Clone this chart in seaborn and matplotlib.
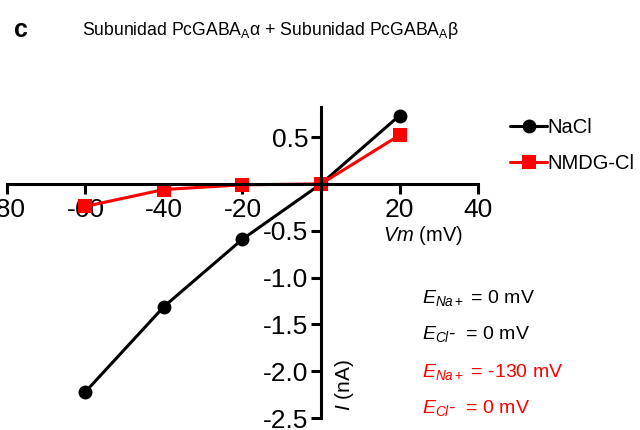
import matplotlib
matplotlib.use("Agg")
import matplotlib.pyplot as plt
import seaborn as sns
import pandas as pd
from matplotlib.lines import Line2D

# Current-voltage data (Vm in mV, I in nA)
vm = [-60, -40, -20, 0, 20]
i_nacl = [-2.22, -1.31, -0.59, 0.0, 0.73]
i_nmdg = [-0.24, -0.06, -0.01, 0.0, 0.52]
solutions = ["NaCl", "NMDG-Cl"]
x_ticks = [-80, -60, -40, -20, 20, 40]
y_ticks = [0.5, -0.5, -1.0, -1.5, -2.0, -2.5]

sns.set_theme(style="white")
plt.rcParams["font.family"] = ["Liberation Sans", "DejaVu Sans"]
plt.rcParams["text.color"] = "black"
plt.rcParams["mathtext.fontset"] = "custom"
plt.rcParams["mathtext.rm"] = "Liberation Sans"
plt.rcParams["mathtext.it"] = "Liberation Sans:italic"
plt.rcParams["mathtext.bf"] = "Liberation Sans:bold"

df = pd.DataFrame({
    "Vm": vm * 2,
    "I": i_nacl + i_nmdg,
    "sol": [solutions[0]] * len(vm) + [solutions[1]] * len(vm),
})

fig = plt.figure(figsize=(6.4, 4.3), dpi=100)
ax = fig.add_axes([0.0109, 0.0279, 0.736, 0.723])

palette = {"NaCl": "black", "NMDG-Cl": "#ff0000"}
sns.lineplot(data=df, x="Vm", y="I", hue="sol", style="sol",
             markers={"NaCl": "o", "NMDG-Cl": "s"}, dashes=False,
             palette=palette, linewidth=2.2, markersize=10,
             markeredgewidth=0, ax=ax, legend=False, clip_on=False)

ax.set_xlim(-80, 40)
ax.set_ylim(-2.5, 0.82)
ax.set_facecolor("none")
for s in ["top", "right"]:
    ax.spines[s].set_visible(False)
ax.spines["left"].set_position(("data", 0))
ax.spines["bottom"].set_position(("data", 0))
for s in ["left", "bottom"]:
    ax.spines[s].set_color("black")
    ax.spines[s].set_linewidth(2.2)

ax.set_xticks(x_ticks)
ax.set_xticklabels([str(v) for v in x_ticks])
ax.set_yticks(y_ticks)
ax.set_yticklabels([f"{v:.1f}" for v in y_ticks])
ax.tick_params(axis="both", direction="out", length=7, width=2.2,
               color="black", labelsize=19, labelcolor="black")
ax.tick_params(axis="x", bottom=True, pad=3)
ax.tick_params(axis="y", left=True, pad=2)
ax.set_xlabel("")
ax.set_ylabel("")

# Axis titles placed next to the crossing spines
fig.text(0.598, 0.452, r"$\mathit{Vm}$ (mV)", fontsize=14.5, ha="left", va="center")
fig.text(0.538, 0.105, r"$\mathit{I}$ (nA)", fontsize=15, rotation=90,
         ha="center", va="center")

# Panel letter and title
fig.text(0.022, 0.93, "c", fontsize=18, fontweight="bold", ha="left", va="center")
fig.text(0.422, 0.93, r"Subunidad PcGABA$_\mathrm{A}$α + Subunidad PcGABA$_\mathrm{A}$β",
         fontsize=12.7, ha="center", va="center")

# Legend
handles = [
    Line2D([], [], color="black", marker="o", markersize=10, linewidth=2.2,
           markeredgewidth=0),
    Line2D([], [], color="#ff0000", marker="s", markersize=10, linewidth=2.2,
           markeredgewidth=0),
]
fig.legend(handles, solutions, loc="upper left", bbox_to_anchor=(0.785, 0.745),
           frameon=False, fontsize=14.5, handlelength=1.8, handletextpad=0.05,
           labelspacing=0.85, borderaxespad=0, labelcolor="black")

# Reversal potentials
notes = [
    (r"$\mathit{E}_{\mathit{Na+}}$ = 0 mV", "black", 0.307),
    (r"$\mathit{E}_{\mathit{Cl}}$-  = 0 mV", "black", 0.223),
    (r"$\mathit{E}_{\mathit{Na+}}$ = -130 mV", "#ff0000", 0.135),
    (r"$\mathit{E}_{\mathit{Cl}}$-  = 0 mV", "#ff0000", 0.052),
]
for txt, col, y in notes:
    fig.text(0.66, y, txt, fontsize=14, color=col, ha="left", va="center")

fig.savefig("out.png", dpi=100)
